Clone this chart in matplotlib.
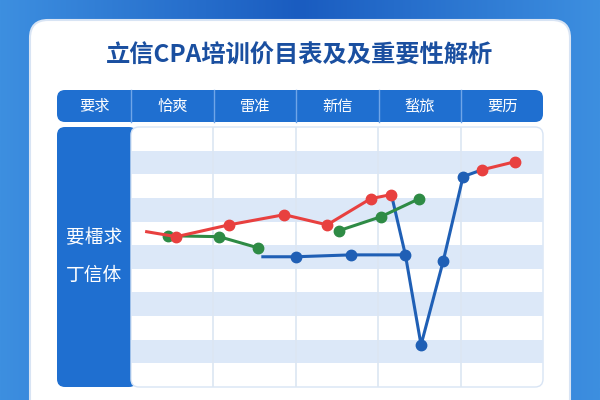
import matplotlib
matplotlib.use("Agg")
import matplotlib.pyplot as plt
from matplotlib.patches import FancyBboxPatch
import numpy as np

plt.rcParams['font.family'] = ['Noto Sans CJK SC', 'DejaVu Sans']

title = "立信CPA培训价目表及及重要性解析"
corner_label = "要求"
categories = ["恰爽", "雷准", "新信", "蝵旅", "要历"]
side_labels = ["要檑求", "丁信体"]

red1_x = [0.19, 0.55, 1.19, 1.86, 2.38, 2.91, 3.16]
red1_y = [6.57, 6.36, 6.86, 7.29, 6.86, 7.97, 8.14]
red2_x = [4.26, 4.66]
red2_y = [9.19, 9.53]
green1_x = [0.45, 1.07, 1.54]
green1_y = [6.40, 6.36, 5.89]
green2_x = [2.52, 3.03, 3.50]
green2_y = [6.61, 7.20, 7.97]
blue_x = [1.60, 2.00, 2.67, 3.33, 3.52, 3.79, 4.03, 4.26]
blue_y = [5.51, 5.51, 5.59, 5.59, 1.78, 5.34, 8.90, 9.19]
blue_link_x = [3.16, 3.33]
blue_link_y = [8.14, 5.59]

RED, GREEN, BLUE = "#e8403f", "#2e8b45", "#1f5fb5"

fig = plt.figure(figsize=(6, 4), dpi=100)
bg = fig.add_axes([0, 0, 1, 1])
bg.set_xlim(0, 600); bg.set_ylim(400, 0); bg.axis("off")
grad = np.linspace(0, 1, 256).reshape(1, -1)
bg.imshow(grad, extent=[0, 600, 400, 0], cmap=matplotlib.colors.LinearSegmentedColormap.from_list("g", ["#3d8fe0", "#1a5cc0", "#3d8fe0"]), aspect="auto")
bg.add_patch(FancyBboxPatch((30, 20), 540, 400, boxstyle="round,pad=0,rounding_size=18", fc="white", ec="#d8e4f4", lw=1.5))
bg.text(300, 56, title, ha="center", va="center", fontsize=17.5, fontweight="bold", color="#1a4fa0")
# header
bg.add_patch(FancyBboxPatch((57, 90), 486, 32, boxstyle="round,pad=0,rounding_size=8", fc="#1f6fd0", ec="none"))
edges = [57, 131, 214, 296, 379, 461, 543]
for e in edges[1:-1]:
    bg.plot([e, e], [90, 122], color="#6fa5e8", lw=1)
labels = [corner_label] + categories
for i, lab in enumerate(labels):
    bg.text((edges[i] + edges[i+1]) / 2, 106, lab, ha="center", va="center", fontsize=11, color="white")
# left panel
bg.add_patch(FancyBboxPatch((57, 127), 80, 260, boxstyle="round,pad=0,rounding_size=8", fc="#1f6fd0", ec="none"))
bg.add_patch(FancyBboxPatch((131, 127), 412, 260, boxstyle="round,pad=0,rounding_size=8", fc="white", ec="#d8e4f4", lw=1))
bg.text(94, 238, side_labels[0], ha="center", va="center", fontsize=13.5, color="white")
bg.text(94, 275, side_labels[1], ha="center", va="center", fontsize=13.5, color="white")

ax = fig.add_axes([131/600, 13/400, 412/600, 260/400])
ax.set_xlim(0, 5); ax.set_ylim(0, 11)
ax.patch.set_alpha(0)
for r in range(1, 11, 2):
    ax.axhspan(r, r + 1, color="#dce8f8", lw=0, zorder=0)
for c in range(1, 5):
    ax.axvline(c, color="#dce6f2", lw=1.2, zorder=0.5)
for s in ax.spines.values():
    s.set_visible(False)
ax.set_xticks([]); ax.set_yticks([])

kw = dict(lw=2.2, ms=7.5, zorder=3)
ax.plot(blue_link_x, blue_link_y, color=BLUE, lw=2.2, zorder=2)
ax.plot(blue_x, blue_y, color=BLUE, lw=2.2, zorder=2)
ax.plot(blue_x[1:7], blue_y[1:7], "o", color=BLUE, ms=7.5, zorder=3)
ax.plot(green1_x, green1_y, "-o", color=GREEN, **kw)
ax.plot(green2_x, green2_y, "-o", color=GREEN, **kw)
ax.plot(red1_x, red1_y, "-", color=RED, lw=2.2, zorder=4)
ax.plot(red1_x[1:], red1_y[1:], "o", color=RED, ms=7.5, zorder=4)
ax.plot(red2_x, red2_y, "-o", color=RED, **kw)

fig.savefig("out.png", dpi=100)
